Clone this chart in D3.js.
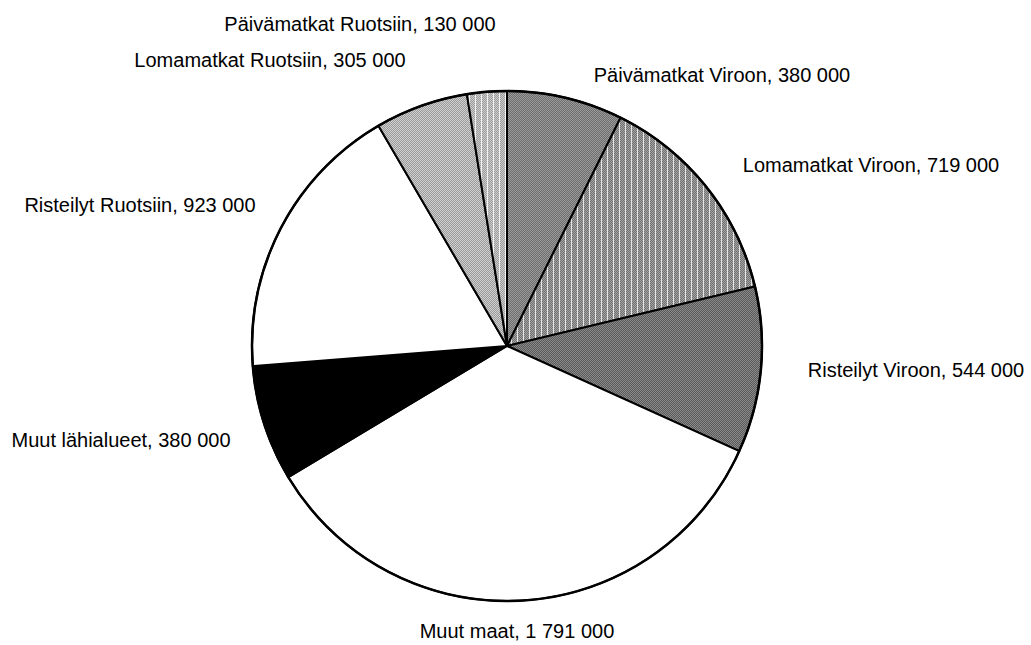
<!DOCTYPE html>
<html>
<head>
<meta charset="utf-8">
<script src="https://cdn.jsdelivr.net/npm/d3@7"></script>
<style>
    body { margin: 0; background: #fff; }
    svg { display: block; }
</style>
</head>
<body>
<svg id="chart" width="1031" height="645"></svg>
<script>
// slices, clockwise from 12 o'clock
var categories = ["Päivämatkat Viroon", "Lomamatkat Viroon", "Risteilyt Viroon", "Muut maat",
                  "Muut lähialueet", "Risteilyt Ruotsiin", "Lomamatkat Ruotsiin", "Päivämatkat Ruotsiin"];
var values = [380000, 719000, 544000, 1791000, 380000, 923000, 305000, 130000];

// label placement (text centre, baseline) - same order as categories
var labelPos = [[722, 82], [871, 172], [916, 377], [517, 638],
                [121, 447], [140, 212], [270, 67], [360, 31]];

// dither look: base colour, dot colour, stripe colour (null = none)
var fills = [
    ["#9a9a9a", "#6e6e6e", null],
    ["#a4a4a4", "#707070", "#e6e6e6"],
    ["#8a8a8a", "#5a5a5a", null],
    ["#ffffff", "#ffffff", null],
    ["#000000", "#000000", null],
    ["#ffffff", "#ffffff", null],
    ["#d0d0d0", "#9a9a9a", null],
    ["#cccccc", "#9c9c9c", "#f2f2f2"]
];

var width = 1031, height = 645;
var cx = 507, cy = 346, radius = 255;

var svg = d3.select("#chart");
var defs = svg.append("defs");

fills.forEach(function (f, i) {
    var w = f[2] ? 6 : 2;
    var p = defs.append("pattern")
        .attr("id", "fill" + i)
        .attr("patternUnits", "userSpaceOnUse")
        .attr("width", w)
        .attr("height", 2);
    p.append("rect").attr("width", w).attr("height", 2).attr("fill", f[0]);
    for (var x = 0; x < w; x += 2) {
        p.append("rect").attr("x", x).attr("y", 0).attr("width", 1).attr("height", 1).attr("fill", f[1]);
        p.append("rect").attr("x", x + 1).attr("y", 1).attr("width", 1).attr("height", 1).attr("fill", f[1]);
    }
    if (f[2]) {
        p.append("rect").attr("x", 4).attr("y", 0).attr("width", 1).attr("height", 2).attr("fill", f[2]);
    }
});

var pie = d3.pie().sort(null).value(function (d) { return d; });
var arc = d3.arc().innerRadius(0).outerRadius(radius);

var data = pie(values);

// Append slices
var g = svg.append("g").attr("transform", "translate(" + cx + "," + cy + ")");
g.selectAll("path")
    .data(data)
    .enter()
    .append("path")
    .attr("d", arc)
    .attr("fill", function (d, i) { return "url(#fill" + i + ")"; })
    .attr("stroke", "#000")
    .attr("stroke-width", 2)
    .attr("stroke-linejoin", "round");

// Outer ring
g.append("circle")
    .attr("r", radius)
    .attr("fill", "none")
    .attr("stroke", "#000")
    .attr("stroke-width", 2.5);

// Append labels
svg.append("g")
    .selectAll("text")
    .data(data)
    .enter()
    .append("text")
    .attr("x", function (d, i) { return labelPos[i][0]; })
    .attr("y", function (d, i) { return labelPos[i][1]; })
    .style("text-anchor", "middle")
    .attr("font-family", "'Liberation Sans', Arial, sans-serif")
    .attr("font-size", 20)
    .attr("fill", "#000")
    .text(function (d, i) {
        return categories[i] + ", " + d3.format(",")(d.value).replace(/,/g, " ");
    });
</script>
</body>
</html>
